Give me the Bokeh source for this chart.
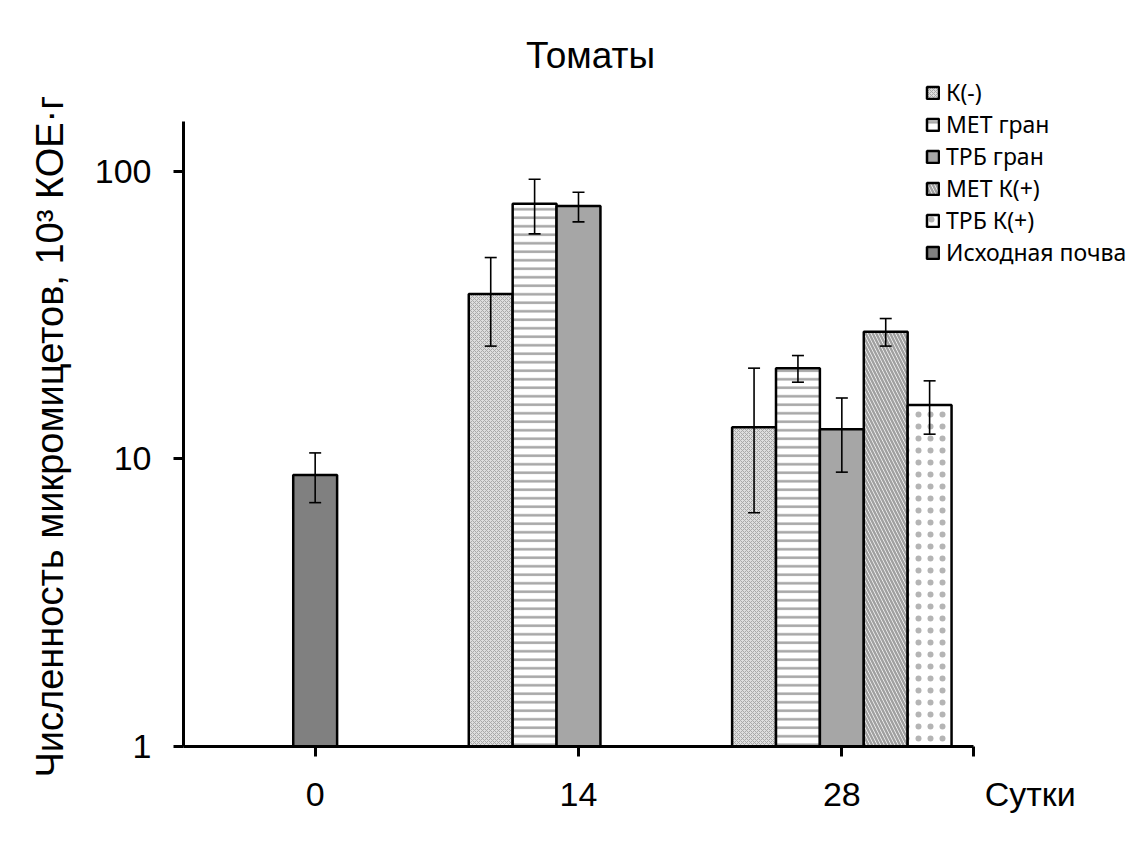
import math
from bokeh.plotting import figure
from bokeh.models import (ColumnDataSource, Range1d, FixedTicker, Whisker, TeeHead,
                          Label, Legend, LegendItem, NumeralTickFormatter, Title)
from bokeh.embed import file_html
from bokeh.resources import INLINE

# ---------------- data ----------------
days = ["0", "14", "28"]
x_caption = "Сутки"
title_text = "Томаты"
y_caption = "Численность микромицетов, 10³ КОЕ·г"
series = ["К(-)", "МЕТ гран", "ТРБ гран", "МЕТ К(+)", "ТРБ К(+)", "Исходная почва"]

k_minus      = [None, 37.5, 12.9]
k_minus_lo   = [None, 24.7, 6.5]
k_minus_hi   = [None, 50.2, 20.7]

met_gran     = [None, 77.3, 20.7]
met_gran_lo  = [None, 60.7, 18.5]
met_gran_hi  = [None, 94.0, 22.9]

trb_gran     = [None, 75.9, 12.7]
trb_gran_lo  = [None, 66.8, 9.0]
trb_gran_hi  = [None, 84.7, 16.3]

met_kplus    = [None, None, 27.7]
met_kplus_lo = [None, None, 24.7]
met_kplus_hi = [None, None, 30.8]

trb_kplus    = [None, None, 15.4]
trb_kplus_lo = [None, None, 12.2]
trb_kplus_hi = [None, None, 18.7]

soil         = [8.8, None, None]
soil_lo      = [7.05, None, None]
soil_hi      = [10.5, None, None]

values = [k_minus, met_gran, trb_gran, met_kplus, trb_kplus, soil]
lows   = [k_minus_lo, met_gran_lo, trb_gran_lo, met_kplus_lo, trb_kplus_lo, soil_lo]
highs  = [k_minus_hi, met_gran_hi, trb_gran_hi, met_kplus_hi, trb_kplus_hi, soil_hi]

# ---------------- styling ----------------
slots = [-2, -1, 0, 1, 2, 0]
bar_w = 1.0 / 6.0
styles = [
    dict(fill_color="#dedede", hatch_pattern="x", hatch_color="#a8a8a8", hatch_scale=4, hatch_weight=1),
    dict(fill_color="white", hatch_pattern="-", hatch_color="#a6a6a6", hatch_scale=8.5, hatch_weight=2.5),
    dict(fill_color="#a6a6a6"),
    dict(fill_color="white", hatch_pattern="\\", hatch_color="#a0a0a0", hatch_scale=7, hatch_weight=2.5),
    dict(fill_color="white", hatch_pattern=".", hatch_color="#b4b4b4", hatch_scale=12, hatch_weight=0.3),
    dict(fill_color="#808080"),
]

FONT = "Liberation Sans"
PX_LEFT, PX_RIGHT_AXIS, PX_TOP_AXIS, PX_BOTTOM = 183, 973, 121, 746
W, H = 1131, 868
px_per_cat = (PX_RIGHT_AXIS - PX_LEFT) / 3.0          # pixels per category
px_per_dec = (PX_BOTTOM - PX_TOP_AXIS) / 2.1739        # pixels per decade
y_axis_top = 10 ** 2.1739
x_end = 3.0 + (W - PX_RIGHT_AXIS) / px_per_cat
y_end = 10 ** (2.1739 + PX_TOP_AXIS / px_per_dec)

p = figure(width=W, height=H, y_axis_type="log",
           x_range=Range1d(0, x_end), y_range=Range1d(1, y_end),
           output_backend="svg", toolbar_location=None,
           min_border_left=PX_LEFT, min_border_right=0,
           min_border_top=0, min_border_bottom=H - PX_BOTTOM)
p.outline_line_color = None
p.xgrid.visible = False
p.ygrid.visible = False
p.background_fill_color = "white"
p.border_fill_color = "white"

items = []
for i, name in enumerate(series):
    xs, tops, los, his = [], [], [], []
    for d in range(len(days)):
        v = values[i][d]
        if v is None:
            continue
        xs.append(d + 0.5 + slots[i] * bar_w)
        tops.append(v)
        los.append(lows[i][d])
        his.append(highs[i][d])
    src = ColumnDataSource(dict(x=xs, top=tops, lo=los, hi=his))
    r = p.vbar(x="x", top="top", bottom=1, width=bar_w, source=src,
               line_color="black", line_width=2.5, **styles[i])
    w = Whisker(base="x", lower="lo", upper="hi", source=src, level="overlay",
                line_color="black", line_width=1.6,
                upper_head=TeeHead(size=12, line_color="black", line_width=1.6),
                lower_head=TeeHead(size=12, line_color="black", line_width=1.6))
    p.add_layout(w)
    items.append(LegendItem(label=name, renderers=[r]))

legend = Legend(items=items, location=(925 - PX_LEFT, 478),
                glyph_width=15, glyph_height=15, label_standoff=6,
                label_height=20, spacing=-5, padding=0, margin=0,
                label_text_font="Noto Sans", label_text_font_size="23px",
                label_text_color="black",
                border_line_color=None, background_fill_alpha=0)
p.add_layout(legend)

# axes
p.xaxis.bounds = (0, 3)
p.yaxis.bounds = (1, y_axis_top)
p.xaxis.ticker = FixedTicker(ticks=[0.5, 1.5, 2.5, 3.0])
ov = {i + 0.5: d for i, d in enumerate(days)}
ov[3.0] = "\u00a0" * 12 + x_caption
p.xaxis.major_label_overrides = ov
p.yaxis.ticker = FixedTicker(ticks=[1, 10, 100])
p.yaxis.formatter = NumeralTickFormatter(format="0")
for ax in (p.xaxis, p.yaxis):
    ax.axis_line_width = 3
    ax.axis_line_color = "black"
    ax.major_tick_line_width = 3
    ax.major_tick_line_color = "black"
    ax.major_tick_in = 0
    ax.major_tick_out = 10
    ax.minor_tick_line_color = None
    ax.major_label_text_font = FONT
    ax.major_label_text_font_size = "34px"
    ax.major_label_text_color = "black"
p.yaxis.major_label_standoff = 22
p.xaxis.major_label_standoff = 18

# y caption as a vertical title in the left panel, starting below the axis bottom
p.add_layout(Title(text=y_caption, align="left", offset=-31, standoff=42,
                   text_font=FONT, text_font_size="38px", text_font_style="normal",
                   text_color="black"), "left")

# title
p.add_layout(Label(x=(590 - PX_LEFT) / px_per_cat,
                   y=10 ** (2.1739 + (PX_TOP_AXIS - 55) / px_per_dec),
                   text=title_text, text_align="center", text_baseline="middle",
                   text_font=FONT, text_font_size="37px", text_color="black"))

open("out.html", "w").write(file_html(p, INLINE))
